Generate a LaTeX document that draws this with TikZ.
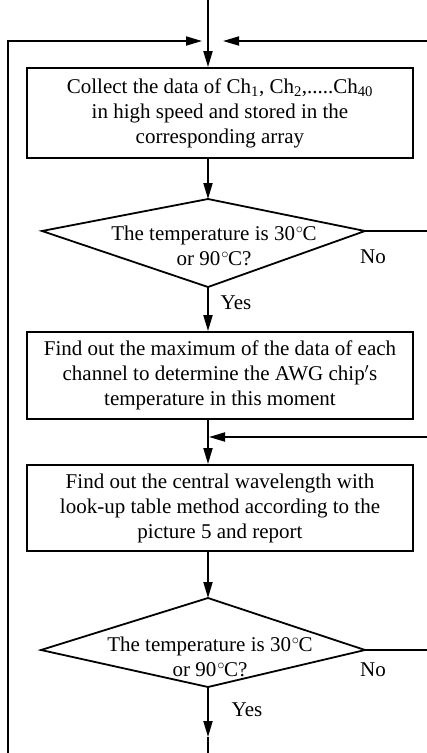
\documentclass[tikz,border=0pt]{standalone}
\usepackage{fontspec}
\setmainfont{Liberation Serif}
\usetikzlibrary{arrows.meta}
\newcommand{\degc}{\kern1pt$^{\circ}$\kern-1ptC}

\begin{document}
\begin{tikzpicture}[x=1pt,y=-1pt,line width=1.8pt,>={Triangle[length=16pt,width=9pt]},
    font=\fontsize{21}{25}\selectfont]

        \useasboundingbox (0,0) rectangle (427,753);

        \begin{scope}[every node/.style={draw,align=center,minimum width=386pt,inner sep=0pt}]
          \node[minimum height=90pt] (1) at (220,113) {Collect the data of Ch\textsubscript{1}, Ch\textsubscript{2},.....Ch\textsubscript{40}\\in high speed and stored in the\\corresponding array};
          \node[minimum height=87pt] (3) at (220,375.5) {Find out the maximum of the data of each\\channel to determine the AWG chip$'$s\\temperature in this moment};
          \node[minimum height=86pt] (4) at (220,508) {Find out the central wavelength with\\look-up table method according to the\\picture 5 and report};
        \end{scope}

        \coordinate (2t) at (208,199);
        \coordinate (2l) at (42,231);
        \coordinate (2r) at (365,231);
        \coordinate (2b) at (208,287);
        \draw (2t) -- (2r) -- (2b) -- (2l) -- cycle;

        \coordinate (5t) at (208,598);
        \coordinate (5l) at (41,650);
        \coordinate (5r) at (365,650);
        \coordinate (5b) at (208,687);
        \draw (5t) -- (5r) -- (5b) -- (5l) -- cycle;

        \begin{scope}[every node/.style={align=center,inner sep=0pt}]
          \node (2) at (214,246) {The temperature is 30\degc\\or 90\degc?};
          \node (5) at (210,657) {The temperature is 30\degc\\or 90\degc?};
          \node (2y) at (236,303) {Yes};
          \node (2n) at (373,257) {No};
          \node (5y) at (247,710) {Yes};
          \node (5n) at (373,670) {No};
        \end{scope}

        \coordinate (0)  at (208,0);
        \coordinate (l)  at (8,753);
        \coordinate (li) at (202,41);
        \coordinate (r)  at (427,41);
        \coordinate (ri) at (223,41);
        \coordinate (2o) at (427,231);
        \coordinate (j)  at (209,437);
        \coordinate (jr) at (427,437);
        \coordinate (5o) at (427,650);
        \coordinate (6)  at (208,737);
        \coordinate (7)  at (208,753);

        \draw[->] (0) -- (1.north -| 0);
        \draw[->] (l) |- (li);
        \draw[->] (r) -- (ri);
        \draw[->] (1.south -| 2t) -- (2t);
        \draw[->] (2b) -- (3.north -| 2b);
        \draw (2r) -- (2o);
        \draw[->] (3.south -| 2b) -- (4.north -| 2b);
        \draw[->] (jr) -- (j);
        \draw[->] (4.south -| 5t) -- (5t);
        \draw (5r) -- (5o);
        \draw[->] (5b) -- (6);
        \draw (6) -- (7);

      \end{tikzpicture}
\end{document}
